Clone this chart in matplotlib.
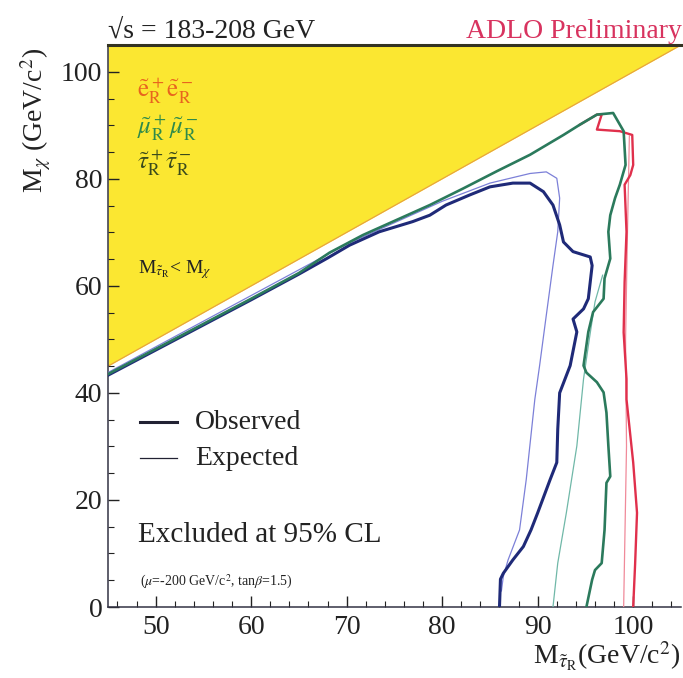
import numpy as np
import matplotlib
matplotlib.use("Agg")
import matplotlib.pyplot as plt
from matplotlib.ticker import MultipleLocator

plt.rcParams['font.family'] = ['Liberation Serif', 'DejaVu Serif']
plt.rcParams['mathtext.fontset'] = 'stix'

# axis range (GeV/c^2)
x_lim = [45, 105]
y_lim = [0, 105]

# stau (navy) observed / expected
stau_obs_x = [45, 50, 55, 60, 65, 68, 70.3, 73.4, 76.9, 78.7, 80.4, 82.9, 85.0, 87.4, 89.2,
              90.6, 91.6, 92.3, 92.7, 93.7, 95.5, 95.7, 95.3, 94.8, 93.7, 94.1, 93.4, 92.3,
              92.1, 92.0, 91.3, 90.0, 89.3, 88.5, 87.4, 86.4, 86.1, 86.0]
stau_obs_y = [43.3, 48.0, 52.7, 57.4, 62.2, 65.2, 67.6, 70.1, 72.0, 73.2, 75.1, 77.0, 78.5, 79.2, 79.2,
              77.6, 75.1, 71.4, 68.2, 66.4, 65.4, 63.8, 57.6, 55.7, 53.8, 51.4, 45.1, 40.0,
              33.2, 27.0, 23.8, 17.6, 14.4, 11.3, 8.8, 6.3, 5.2, 0]
stau_exp_x = [45, 55, 65, 70, 75, 80, 85, 87.1, 89.2, 90.9, 92.0, 92.3, 92.1, 91.6, 90.9,
              90.2, 89.7, 88.8, 88.1, 86.9, 86.4, 86.2]
stau_exp_y = [43.8, 53.4, 63.0, 67.8, 71.8, 75.8, 79.2, 80.1, 81.0, 81.3, 80.1, 76.4, 70.1, 63.8, 54.5,
              45.1, 38.8, 23.8, 14.4, 8.8, 5.7, 3.0]

# smuon (green) observed / expected
smu_obs_x = [45, 50, 55, 60, 65, 68.2, 71.7, 75.2, 78.7, 82.2, 85.7, 89.2, 92.7, 94.4, 96.2,
             97.9, 99.0, 99.2, 98.6, 98.1, 97.6, 97.4, 97.6, 97.0, 96.9, 95.8, 95.3, 94.8,
             95.1, 96.2, 96.9, 97.2, 97.4, 97.6, 97.2, 97.0, 96.7, 96.0, 95.7, 95.1]
smu_obs_y = [43.5, 48.2, 52.9, 57.6, 62.4, 66.2, 69.5, 72.3, 75.1, 78.2, 81.4, 84.5, 88.2, 90.1, 92.0,
             92.3, 88.9, 82.6, 78.9, 76.4, 73.2, 70.1, 65.1, 61.4, 57.6, 55.1, 51.4, 45.1,
             43.8, 42.0, 40.1, 36.3, 30.1, 24.4, 23.2, 14.4, 8.2, 6.9, 5.1, 0]
smu_exp_x = [96.8, 96.0, 95.4, 94.8, 94.1, 93.0, 92.1, 91.6]
smu_exp_y = [62.0, 57.0, 50.0, 42.6, 30.1, 17.6, 8.2, 0]

# selectron (red) observed / expected
sel_obs_x = [94.4, 96.2, 96.7, 96.2, 98.6, 99.9, 100.0, 99.7, 99.1, 99.3, 99.1, 99.0, 99.3,
             99.3, 100.0, 100.4, 100.2, 100.0]
sel_obs_y = [90.1, 92.0, 92.0, 89.2, 88.9, 88.2, 82.6, 80.7, 78.9, 70.1, 60.7, 51.3, 42.6,
             38.8, 27.0, 17.6, 8.0, 0]
sel_exp_x = [99.6, 99.4, 99.2, 99.3, 99.1, 99.0]
sel_exp_y = [88.0, 70.0, 50.0, 30.0, 10.0, 0]

c_stau, c_smu, c_sel = '#1f2a78', '#2b7a5c', '#e0304c'

fig = plt.figure(figsize=(6.83, 6.78), dpi=100)
ax = fig.add_axes([0.158, 0.1047, 0.839, 0.8289])

diag = np.array(x_lim, dtype=float)
ax.fill_between(diag, diag, y_lim[1], color='#fbe731', lw=0, zorder=1)
ax.plot(diag, diag, color='#e8a040', lw=0.8, zorder=2)

ax.plot(stau_exp_x, stau_exp_y, color='#7c80d8', lw=0.9, zorder=3)
ax.plot(smu_exp_x, smu_exp_y, color='#70b8a8', lw=0.9, zorder=3)
ax.plot(sel_exp_x, sel_exp_y, color='#f08a9a', lw=0.9, zorder=3)
ax.plot(stau_obs_x, stau_obs_y, color=c_stau, lw=2.2, zorder=4)
ax.plot(sel_obs_x, sel_obs_y, color=c_sel, lw=1.7, zorder=4)
ax.plot(smu_obs_x, smu_obs_y, color=c_smu, lw=1.9, zorder=5)

ax.set_xlim(x_lim)
ax.set_ylim(y_lim)
ax.xaxis.set_major_locator(MultipleLocator(10))
ax.xaxis.set_minor_locator(MultipleLocator(2))
ax.yaxis.set_major_locator(MultipleLocator(20))
ax.yaxis.set_minor_locator(MultipleLocator(5))
ax.tick_params(which='both', direction='in', top=False, right=False, labelsize=20, colors='#222222')
ax.tick_params(which='major', length=8, width=1)
ax.tick_params(which='minor', length=4, width=0.8)
ax.tick_params(axis='x', pad=6)
ax.tick_params(axis='y', pad=4)
for s in ['left', 'bottom']:
    ax.spines[s].set_linewidth(1.1)
    ax.spines[s].set_color('#333344')
ax.spines['top'].set_linewidth(2.2)
ax.spines['top'].set_color('#333322')
ax.spines['right'].set_visible(False)

# labels inside the yellow region
ax.text(0.051, 0.918, r'$\mathrm{\tilde{e}}^+_\mathrm{R}\mathrm{\tilde{e}}^-_\mathrm{R}$',
        color='#e8641e', fontsize=18, transform=ax.transAxes, va='center')
ax.text(0.051, 0.852, r'$\tilde{\mu}^+_\mathrm{R}\tilde{\mu}^-_\mathrm{R}$',
        color='#2e8a4a', fontsize=18, transform=ax.transAxes, va='center')
ax.text(0.051, 0.790, r'$\tilde{\tau}^+_\mathrm{R}\tilde{\tau}^-_\mathrm{R}$',
        color='#3a4a1c', fontsize=18, transform=ax.transAxes, va='center')
ax.text(0.052, 0.600, r'M$_{\tilde{\tau}_\mathrm{R}}$< M$_\chi$', color='#222222', fontsize=14,
        transform=ax.transAxes, va='center')

# legend drawn by hand
ax.plot([0.056, 0.120], [0.329, 0.329], color='#222233', lw=2.2, transform=ax.transAxes)
ax.plot([0.056, 0.120], [0.265, 0.265], color='#222233', lw=0.9, transform=ax.transAxes)
ax.text(0.152, 0.329, 'Observed', fontsize=20, transform=ax.transAxes, va='center', color='#222222')
ax.text(0.152, 0.265, 'Expected', fontsize=20, transform=ax.transAxes, va='center', color='#222222')
ax.text(0.052, 0.128, 'Excluded at 95% CL', fontsize=21, transform=ax.transAxes, va='center',
        color='#222222')
ax.text(0.056, 0.044, r'($\mu$=-200 GeV/c$^2$, tan$\beta$=1.5)', fontsize=10,
        transform=ax.transAxes, va='center', color='#222222')

fig.text(108 / 683, 1 - 38 / 678, '√s = 183-208 GeV', fontsize=20, va='baseline', ha='left',
         color='#222222')
fig.text(0.998, 1 - 38 / 678, 'ADLO Preliminary', fontsize=20, va='baseline', ha='right',
         color='#d8335f')
fig.text(36 / 683, 0.823, r'M$_\chi$ (GeV/c$^2$)', fontsize=20, rotation=90, ha='center',
         va='center', color='#222222')
fig.text(0.996, 0.019, r'M$_{\tilde{\tau}_\mathrm{R}}$(GeV/c$^2$)', fontsize=20, ha='right',
         va='baseline', color='#222222')

fig.savefig('out.png', dpi=100)
